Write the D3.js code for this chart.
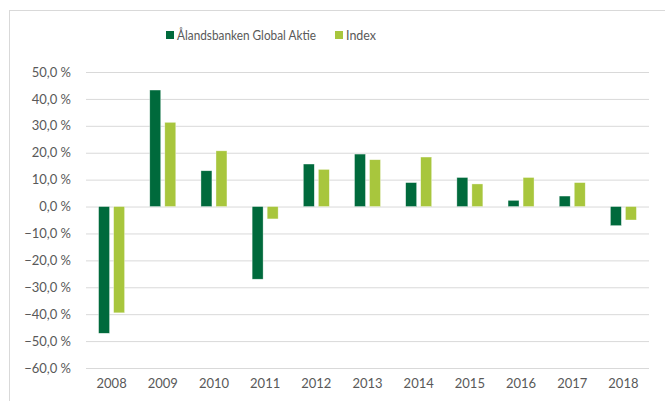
<!DOCTYPE html>
<html>
<head>
<meta charset="utf-8">
<script src="https://cdn.jsdelivr.net/npm/d3@7"></script>
<style>
  body { margin: 0; background: #fff; }
  text { font-family: Lato, "Liberation Sans", sans-serif; fill: #595959; }
</style>
</head>
<body>
<svg class="svg_chart" width="665" height="401"></svg>
<script>
// data
var years = ["2008", "2009", "2010", "2011", "2012", "2013", "2014", "2015", "2016", "2017", "2018"];
var fund = [-47.1, 43.3, 13.3, -27.0, 15.8, 19.5, 8.9, 10.8, 2.3, 3.9, -7.1];
var index = [-39.5, 31.3, 20.7, -4.6, 13.8, 17.4, 18.4, 8.4, 10.8, 8.9, -5.0];
var seriesNames = ["Ålandsbanken Global Aktie", "Index"];
var yTicks = [50, 40, 30, 20, 10, 0, -10, -20, -30, -40, -50, -60];

var colors = ["#006a3c", "#a8c63d"];
var fontSize = 13;

var svg = d3.select(".svg_chart"),
    margin = {top: 72, right: 16, bottom: 33, left: 86},
    width = +svg.attr("width") - margin.left - margin.right,
    height = +svg.attr("height") - margin.top - margin.bottom;

// outer chart border (runs off the right and bottom edges)
svg.append("rect")
    .attr("x", 9.5).attr("y", 10.5)
    .attr("width", 700).attr("height", 420)
    .attr("fill", "none").attr("stroke", "#d9d9d9");

var g = svg.append("g").attr("transform", "translate(" + margin.left + "," + margin.top + ")");

var x = d3.scaleBand().domain(years).range([0, width]);
var x1 = d3.scaleBand().domain([0, 1]).range([-13, 13]).paddingInner(0.27);
var y = d3.scaleLinear().domain([-60, 50]).range([height, 0]);

// gridlines + y labels
var yAxis = g.append("g")
    .call(d3.axisLeft(y).tickValues(yTicks).tickSize(-width).tickPadding(15)
      .tickFormat(function(d) { return d3.format(".1f")(d).replace(".", ",") + " %"; }));
yAxis.select(".domain").remove();
yAxis.selectAll(".tick line").attr("stroke", "#d9d9d9");
yAxis.selectAll(".tick text").attr("font-size", fontSize).attr("fill", "#595959")
    .style("font-family", "Lato, 'Liberation Sans', sans-serif");

// x labels
var xAxis = g.append("g")
    .attr("transform", "translate(0," + height + ")")
    .call(d3.axisBottom(x).tickSize(0).tickPadding(11));
xAxis.select(".domain").remove();
xAxis.selectAll(".tick text").attr("font-size", fontSize).attr("fill", "#595959")
    .style("font-family", "Lato, 'Liberation Sans', sans-serif");

// bars
var series = [fund, index];
series.forEach(function(vals, s) {
  g.selectAll(".bar" + s)
    .data(vals)
    .enter().append("rect")
      .attr("class", "bar" + s)
      .attr("x", function(d, i) { return x(years[i]) + x.bandwidth() / 2 + x1(s); })
      .attr("y", function(d) { return y(Math.max(0, d)); })
      .attr("width", x1.bandwidth())
      .attr("height", function(d) { return Math.abs(y(d) - y(0)); })
      .attr("fill", colors[s])
      .attr("stroke", "#ffffff")
      .attr("stroke-opacity", 0.6)
      .attr("stroke-width", 0.6);
});

// legend
var legendX = [166, 335];
var legendW = [139, 30];
var legend = svg.append("g");
seriesNames.forEach(function(name, i) {
  legend.append("rect")
    .attr("x", legendX[i]).attr("y", 31)
    .attr("width", 8).attr("height", 8)
    .attr("fill", colors[i]);
  legend.append("text")
    .attr("x", legendX[i] + 11).attr("y", 35)
    .attr("dy", "0.35em")
    .attr("font-size", fontSize)
    .attr("textLength", legendW[i])
    .attr("lengthAdjust", "spacingAndGlyphs")
    .text(name);
});
</script>
</body>
</html>
